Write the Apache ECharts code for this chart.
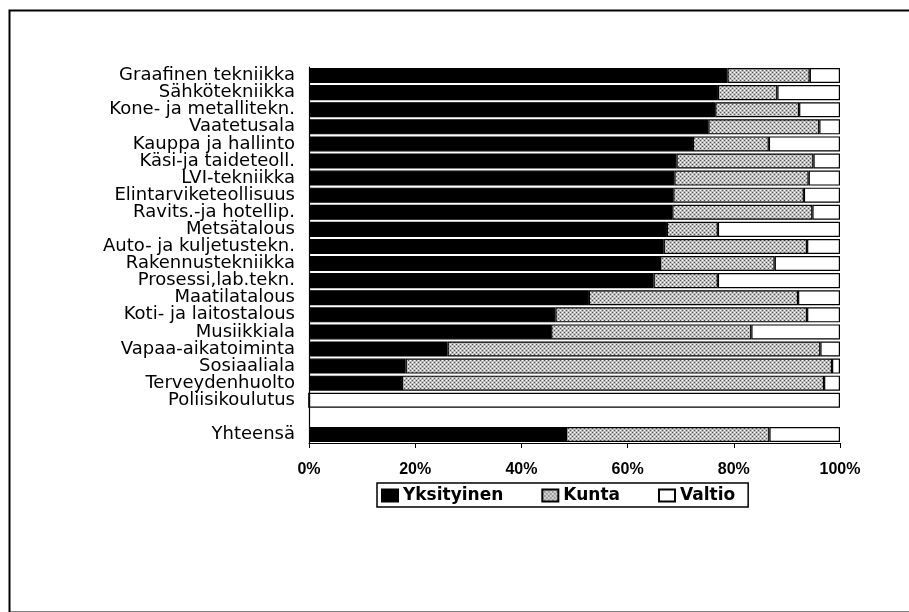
<!DOCTYPE html>
<html>
<head>
<meta charset="utf-8">
<script src="https://cdn.jsdelivr.net/npm/echarts@6/dist/echarts.min.js"></script>
<style>
html,body{margin:0;padding:0;background:#fff;}
#c{width:909px;height:612px;}
</style>
</head>
<body>
<div id="c"></div>
<script>
var categories = ['Graafinen tekniikka','Sähkötekniikka','Kone- ja metallitekn.','Vaatetusala','Kauppa ja hallinto','Käsi-ja taideteoll.','LVI-tekniikka','Elintarviketeollisuus','Ravits.-ja hotellip.','Metsätalous','Auto- ja kuljetustekn.','Rakennustekniikka','Prosessi,lab.tekn.','Maatilatalous','Koti- ja laitostalous','Musiikkiala','Vapaa-aikatoiminta','Sosiaaliala','Terveydenhuolto','Poliisikoulutus','','Yhteensä'];
var yksityinen = [78.8,77.0,76.5,75.2,72.3,69.2,68.8,68.6,68.4,67.4,66.8,66.1,64.9,52.7,46.4,45.6,26.1,18.2,17.5,0,null,48.4];
var kunta      = [15.5,11.2,15.8,20.9,14.3,25.8,25.3,24.6,26.4,9.6,27.0,21.6,12.1,39.4,47.4,37.7,70.2,80.3,79.5,0,null,38.3];
var valtio     = [5.7,11.8,7.7,3.9,13.4,5.0,5.9,6.8,5.2,23.0,6.2,12.3,23.0,7.9,6.2,16.7,3.7,1.5,3.0,100,null,13.3];
var xTicks = [0,20,40,60,80,100];

var font = 'Liberation Sans, Arial, Helvetica, sans-serif';
var wideFont = 'DejaVu Sans, Liberation Sans, Arial, sans-serif';

// dotted grey pattern for "Kunta"
var pc = document.createElement('canvas');
pc.width = 4; pc.height = 4;
var pctx = pc.getContext('2d');
pctx.fillStyle = '#bdbdbd'; pctx.fillRect(0,0,4,4);
pctx.fillStyle = '#555555';
pctx.fillRect(0,0,1,1); pctx.fillRect(2,2,1,1);
pctx.fillStyle = '#ffffff';
pctx.fillRect(2,0,1,1); pctx.fillRect(0,2,1,1);
var kuntaFill = {image: pc, repeat: 'repeat'};

var chart = echarts.init(document.getElementById('c'), null, {renderer:'canvas'});
var barCommon = {type:'bar', stack:'s', barCategoryGap:'12%', emphasis:{disabled:true}};
chart.setOption({
  animation:false,
  backgroundColor:'#fff',
  graphic:[{type:'rect', left:7, top:8, shape:{width:1000, height:602}, style:{fill:'none', stroke:'#000', lineWidth:2}, z:-1}],
  grid:{left:309, right:69, top:67, bottom:169, containLabel:false},
  legend:{
    left:377, top:483,
    data:['Yksityinen','Kunta','Valtio'],
    borderColor:'#000', borderWidth:1.5, padding:[4,13,3,4],
    itemGap:38, itemWidth:16, itemHeight:12,
    icon:'rect',
    textStyle:{fontFamily:wideFont, fontWeight:'bold', fontSize:17, color:'#000', padding:[0,0,0,0]}
  },
  xAxis:{
    type:'value', min:0, max:100, interval:20,
    axisLine:{show:true, lineStyle:{color:'#000', width:1.2}},
    axisTick:{show:true, length:5, lineStyle:{color:'#000'}},
    splitLine:{show:false},
    axisLabel:{formatter:'{value}%', fontFamily:font, fontWeight:'bold', fontSize:16, color:'#000', margin:19}
  },
  yAxis:{
    type:'category', data:categories, inverse:true,
    axisLine:{show:true, lineStyle:{color:'#000', width:1.2}},
    axisTick:{show:false},
    axisLabel:{fontFamily:wideFont, fontSize:18, color:'#000', margin:14, interval:0}
  },
  series:[
    Object.assign({}, barCommon, {name:'Yksityinen', data:yksityinen, itemStyle:{color:'#000', borderColor:'#000', borderWidth:1.2}}),
    Object.assign({}, barCommon, {name:'Kunta', data:kunta, itemStyle:{color:kuntaFill, borderColor:'#000', borderWidth:1.2}}),
    Object.assign({}, barCommon, {name:'Valtio', data:valtio, itemStyle:{color:'#fff', borderColor:'#000', borderWidth:1.2}})
  ]
});
</script>
</body>
</html>
